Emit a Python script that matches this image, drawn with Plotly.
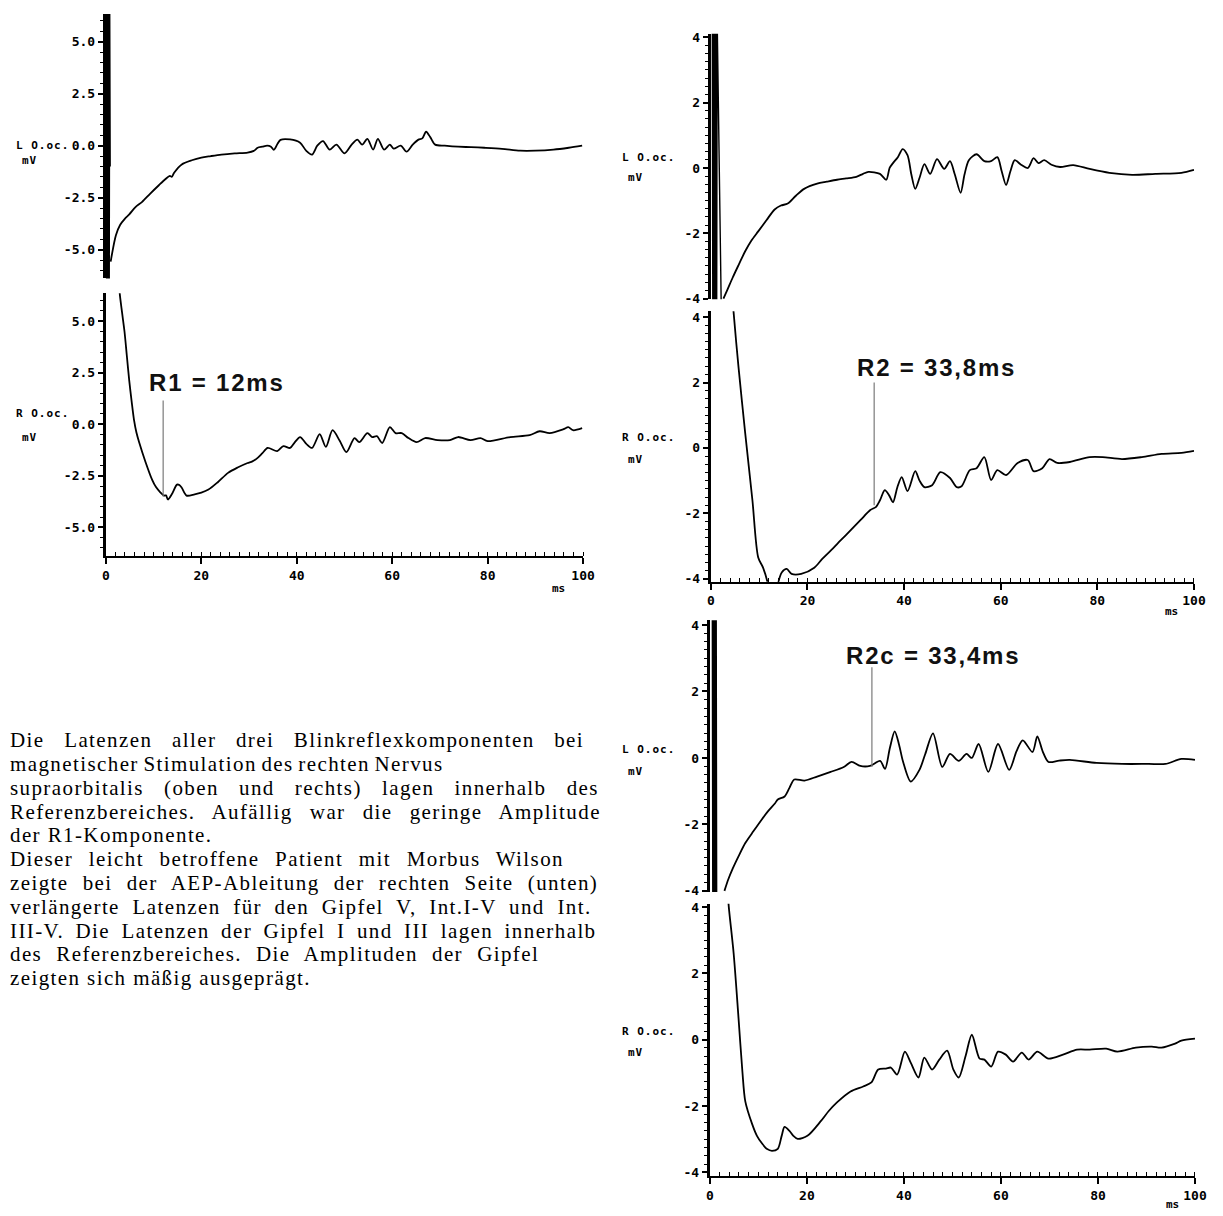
import plotly.graph_objects as go

# ---------------- data: blink reflex recordings (time in ms, amplitude in mV) ----------------
# Left panel, left orbicularis oculi (L O.oc.)
stim_a_t = [0.0, 0.1, 0.2, 0.3, 0.4, 0.5, 0.6, 0.7, 0.8, 0.9]
stim_a_v = [6.6, -6.6, 6.6, -6.6, 6.6, -6.6, 6.6, -6.6, 6.6, -1.0]
la_t = [1.0, 2.1, 3.0, 4.0, 4.9, 6.2, 7.6, 9.3, 11.1, 12.5, 13.4, 13.8, 14.3, 15.9, 18, 20, 22, 24.2,
        27, 29.7, 31.0, 31.8, 32.8, 33.8, 34.6, 35.2, 36.0, 36.6, 38.6, 40.7, 42, 43.2, 44.3, 45.5,
        46.9, 48.3, 50, 51.5, 52.7, 53.7, 54.8, 56, 57, 58.3, 59.5, 60.3, 61.8, 63, 64.3, 65.5, 66.3,
        67.1, 68, 69, 71, 73.8, 76.5, 79.3, 83, 86.8, 90, 93.8, 97, 99.8]
la_v = [-5.57, -4.3, -3.8, -3.5, -3.3, -2.95, -2.7, -2.3, -1.9, -1.6, -1.45, -1.5, -1.3, -0.9, -0.7,
        -0.57, -0.5, -0.43, -0.37, -0.33, -0.25, -0.1, -0.05, 0.0, -0.05, -0.2, 0.1, 0.28, 0.3, 0.14,
        -0.25, -0.43, 0.0, 0.22, -0.19, 0.05, -0.37, 0.05, 0.29, 0.05, 0.33, -0.19, 0.33, -0.19, 0.05,
        -0.14, 0.0, -0.29, 0.05, 0.29, 0.35, 0.67, 0.4, 0.05, 0.0, -0.05, -0.07, -0.1, -0.15, -0.24,
        -0.24, -0.19, -0.1, 0.0]

# Left panel, right orbicularis oculi (R O.oc.)
ra_t = [2.6, 2.9, 3.4, 3.9, 4.4, 4.9, 5.4, 5.9, 6.4, 7.0, 8.3, 9.7, 10.5, 11.4, 12.2, 12.6, 13.0, 13.8,
        14.9, 15.4, 15.9, 16.9, 18.6, 20, 21.5, 23.5, 25.6, 27.6, 29.7, 30.7, 31.8, 32.8, 33.9, 35.9,
        37.2, 38.6, 39.5, 40.7, 42, 43.2, 44.8, 46.1, 47.5, 49, 50.4, 52.1, 53.1, 54.8, 55.8, 56.8,
        57.9, 59.5, 60.7, 62, 63.4, 65.1, 66.9, 69.5, 72.1, 73.8, 76.4, 78.5, 80, 84.7, 88.8, 90.9,
        93, 95.9, 96.9, 97.9, 99.8]
ra_v = [7.5, 6.35, 5.4, 4.5, 3.3, 2.1, 1.1, 0.2, -0.4, -0.9, -1.83, -2.7, -3.05, -3.3, -3.46, -3.45,
        -3.65, -3.4, -2.93, -2.95, -3.08, -3.46, -3.4, -3.32, -3.17, -2.8, -2.36, -2.1, -1.88, -1.8,
        -1.63, -1.4, -1.15, -1.3, -1.06, -1.15, -0.9, -0.62, -0.95, -1.15, -0.48, -1.1, -0.29, -0.8,
        -1.35, -0.67, -0.87, -0.43, -0.62, -0.58, -0.91, -0.14, -0.43, -0.43, -0.67, -0.87, -0.67,
        -0.77, -0.77, -0.62, -0.77, -0.67, -0.82, -0.62, -0.53, -0.34, -0.43, -0.24, -0.14, -0.29,
        -0.19]

# Upper right panel, L O.oc.
stim_b_t = [0.3, 0.4, 0.5, 0.6, 0.7, 0.8, 0.9, 1.0, 1.1, 1.2, 1.3, 2.2]
stim_b_v = [4.6, -4.6, 4.6, -4.6, 4.6, -4.6, 4.6, -4.6, 4.6, -4.6, 4.6, -4.8]
lb_t = [2.6, 3.5, 4.5, 5.8, 7.1, 8.4, 9.8, 11.5, 13.2, 14.5, 15.9, 17.6, 19.3, 22, 24, 26.1, 28, 30.1,
        31.5, 32.6, 35, 36.3, 37.0, 37.7, 38.7, 39.7, 40.7, 41.5, 42.3, 43.2, 44.2, 45.4, 46.8, 48.3,
        49.5, 50.5, 51.7, 52.5, 53.4, 55, 56.6, 58, 59.3, 60.2, 61.1, 62.0, 62.9, 64.2, 65.6, 66.8,
        67.8, 69, 70.5, 72.3, 75, 78.4, 82.5, 87.2, 92, 97.4, 100]
lb_v = [-4.0, -3.7, -3.36, -2.95, -2.55, -2.22, -1.94, -1.6, -1.27, -1.15, -1.09, -0.85, -0.64, -0.48,
        -0.42, -0.36, -0.32, -0.27, -0.18, -0.12, -0.18, -0.36, 0.0, 0.15, 0.33, 0.58, 0.39, -0.2,
        -0.64, -0.3, 0.12, -0.18, 0.27, -0.03, 0.21, -0.2, -0.76, -0.2, 0.24, 0.42, 0.21, 0.21, 0.33,
        -0.1, -0.52, -0.1, 0.24, 0.1, 0.0, 0.30, 0.15, 0.24, 0.1, 0.03, 0.09, -0.03, -0.15, -0.21,
        -0.18, -0.15, -0.06]

# Upper right panel, R O.oc.
rb_t = [4.5, 4.7, 5.7, 7.1, 8.6, 9.8, 10.8, 11.8, 12.3, 13.5, 13.9, 14.7, 15.7, 16.7, 18.7, 21.4, 23,
        24.8, 26.9, 28.9, 31, 33, 34.2, 35, 36, 36.9, 37.7, 38.6, 39.5, 40.7, 42.3, 43.2, 44.2, 45.8,
        47.5, 49.5, 50.9, 51.9, 53.6, 55, 56.6, 58, 59.3, 61.1, 63.5, 65.6, 66.8, 68.6, 70.1, 71.7,
        74.3, 78.4, 81.1, 85.1, 89.2, 93.3, 97.4, 100]
rb_v = [4.6, 4.15, 2.5, 0.46, -1.6, -3.35, -3.66, -4.15, -4.6, -4.6, -4.15, -3.8, -3.7, -3.85, -3.85,
        -3.66, -3.4, -3.14, -2.82, -2.52, -2.2, -1.9, -1.8, -1.6, -1.29, -1.45, -1.66, -1.2, -0.89,
        -1.32, -0.71, -1.0, -1.2, -1.14, -0.74, -0.92, -1.2, -1.17, -0.68, -0.62, -0.28, -0.98, -0.68,
        -0.83, -0.46, -0.37, -0.71, -0.62, -0.34, -0.46, -0.43, -0.28, -0.28, -0.34, -0.28, -0.18,
        -0.15, -0.09]

# Lower right panel, L O.oc.
stim_c_t = [0.5, 0.6, 0.7, 0.8, 0.9, 1.0, 1.1, 1.2, 1.3, 1.4, 2.4]
stim_c_v = [4.6, -4.6, 4.6, -4.6, 4.6, -4.6, 4.6, -4.6, 4.6, -4.6, -4.8]
lc_t = [3.0, 3.8, 4.7, 6.0, 7.3, 9.0, 10.7, 12.0, 13.4, 14.0, 15.4, 16.4, 17.4, 19.5, 22.1, 24.9, 27.6,
        29.2, 31, 33, 35.1, 36.1, 37.1, 38.1, 39.0, 39.8, 41.4, 43.2, 44.4, 46, 47.9, 49.5, 51.3, 52.9,
        54, 55.4, 57.4, 59.4, 61.7, 63.2, 64.5, 66.5, 67.5, 68.6, 69.8, 72, 74.2, 79.7, 85, 90.5, 93.9,
        97.2, 100]
lc_v = [-4.0, -3.65, -3.33, -2.93, -2.56, -2.2, -1.85, -1.6, -1.37, -1.25, -1.16, -0.9, -0.65, -0.68,
        -0.56, -0.42, -0.27, -0.12, -0.24, -0.24, -0.09, -0.33, 0.3, 0.8, 0.4, -0.1, -0.71, -0.36,
        0.12, 0.74, -0.27, 0.12, -0.09, 0.12, 0.0, 0.42, -0.42, 0.42, -0.36, 0.2, 0.53, 0.18, 0.65,
        0.2, -0.12, -0.08, -0.06, -0.15, -0.18, -0.18, -0.18, -0.03, -0.06]

# Lower right panel, R O.oc.
rc_t = [3.6, 3.9, 4.9, 5.9, 6.7, 7.3, 8.7, 9.7, 10.8, 11.8, 12.8, 14, 14.8, 15.4, 16.4, 17.2, 18.1,
        20.1, 22.9, 24.5, 26.2, 29, 31.6, 33.3, 34.7, 36.3, 37.3, 38.6, 40.2, 41.4, 43, 44.2, 45.8,
        47.3, 48.9, 50.2, 51.3, 52.7, 54, 55.6, 56.6, 58, 59.4, 61, 62.5, 64.3, 65.7, 67.5, 69.8, 72.8,
        75.7, 78.3, 81.7, 84, 87.8, 91.1, 93.1, 95.9, 97.2, 100]
rc_v = [4.6, 4.0, 2.6, 0.66, -0.96, -1.86, -2.54, -2.9, -3.14, -3.3, -3.35, -3.29, -2.9, -2.63, -2.75,
        -2.9, -2.99, -2.9, -2.45, -2.15, -1.89, -1.56, -1.41, -1.29, -0.9, -0.87, -0.84, -1.05, -0.36,
        -0.69, -1.14, -0.54, -0.9, -0.6, -0.33, -0.9, -1.14, -0.5, 0.15, -0.57, -0.6, -0.81, -0.36,
        -0.45, -0.66, -0.39, -0.6, -0.36, -0.57, -0.45, -0.3, -0.3, -0.27, -0.36, -0.24, -0.21, -0.24,
        -0.12, -0.03, 0.03]

# Reflex component latencies
latency_labels = ["R1 = 12ms", "R2 = 33,8ms", "R2c = 33,4ms"]
latency_ms = [12.0, 33.8, 33.4]

# Axis tick labels
x_ticks = [0, 20, 40, 60, 80, 100]
y_ticks_wide = [-5.0, -2.5, 0.0, 2.5, 5.0]
y_ticktext_wide = ["-5.0", "-2.5", "0.0", "2.5", "5.0"]
y_ticks_narrow = [-4, -2, 0, 2, 4]
y_ticktext_narrow = ["-4", "-2", "0", "2", "4"]
channel_names = ["L O.oc.", "R O.oc."]
unit_label = "mV"
time_unit = "ms"

body_lines = [
    "Die Latenzen aller drei Blinkreflexkomponenten bei",
    "magnetischer Stimulation des rechten Nervus",
    "supraorbitalis (oben und rechts) lagen innerhalb des",
    "Referenzbereiches. Aufällig war die geringe Amplitude",
    "der R1-Komponente.",
    "Dieser leicht betroffene Patient mit Morbus Wilson",
    "zeigte bei der AEP-Ableitung der rechten Seite (unten)",
    "verlängerte Latenzen für den Gipfel V, Int.I-V und Int.",
    "III-V. Die Latenzen der Gipfel I und III lagen innerhalb",
    "des Referenzbereiches. Die Amplituden der Gipfel",
    "zeigten sich mäßig ausgeprägt.",
]
# extra space between words on each line of the paragraph (px)
body_word_gap = [13.0, -2.0, 13.5, 10.5, 0.0, 9.0, 7.5, 6.0, 4.8, 7.5, 0.0]

# ---------------- page geometry (pixels) ----------------
W, H = 1223, 1216


def px_x(p):
    return p / W


def px_y(p):
    return 1 - p / H


MONO = "DejaVu Sans Mono"
tickfont = dict(family=MONO, size=13, color="black", weight="bold")

# (x-left px, x-right px, top px, bottom px, y-range, ticks, ticktext, minor dtick, show x axis)
panels = [
    (103, 587, 10, 277, [-6.38, 6.33], y_ticks_wide, y_ticktext_wide, 0.5, False),
    (103, 587, 292, 557, [-6.39, 6.35], y_ticks_wide, y_ticktext_wide, 0.5, True),
    (716, 1206, 30, 298, [-4.02, 4.11], y_ticks_narrow, y_ticktext_narrow, 0.25, False),
    (716, 1206, 310, 583, [-4.09, 4.18], y_ticks_narrow, y_ticktext_narrow, 0.25, True),
    (715, 1207, 622, 896, [-4.03, 4.14], y_ticks_narrow, y_ticktext_narrow, 0.25, False),
    (715, 1207, 908, 1183, [-4.12, 4.1], y_ticks_narrow, y_ticktext_narrow, 0.25, True),
]

traces = [
    (la_t, la_v, stim_a_t, stim_a_v),
    (ra_t, ra_v, None, None),
    (lb_t, lb_v, stim_b_t, stim_b_v),
    (rb_t, rb_v, None, None),
    (lc_t, lc_v, stim_c_t, stim_c_v),
    (rc_t, rc_v, None, None),
]

fig = go.Figure()
layout = dict(
    width=W, height=H, margin=dict(l=0, r=0, t=0, b=0),
    paper_bgcolor="white", plot_bgcolor="white", showlegend=False,
)

for i, (p, tr) in enumerate(zip(panels, traces), start=1):
    xl, xr, yt, yb, yr, yt_vals, yt_text, ydt, show_x = p
    xa = "x" if i == 1 else f"x{i}"
    ya = "y" if i == 1 else f"y{i}"
    t, v, st, sv = tr
    if st is not None:
        # stimulus artifact: linear segments, no smoothing
        fig.add_trace(go.Scatter(x=st, y=sv, mode="lines", xaxis=xa, yaxis=ya,
                                 line=dict(color="black", width=1.4), hoverinfo="skip"))
    fig.add_trace(go.Scatter(x=t, y=v, mode="lines", xaxis=xa, yaxis=ya,
                             line=dict(color="black", width=1.8, shape="spline", smoothing=0.8)))

    xkey = "xaxis" if i == 1 else f"xaxis{i}"
    ykey = "yaxis" if i == 1 else f"yaxis{i}"
    layout[xkey] = dict(
        domain=[px_x(xl), px_x(xr)], range=[-0.05, 100.05], anchor=ya, visible=show_x,
        showgrid=False, zeroline=False, showline=True, linecolor="black", linewidth=2.2,
        ticks="outside", ticklen=6, tickwidth=1.6, tickcolor="black",
        tickvals=x_ticks, ticktext=[str(x) for x in x_ticks], tickfont=tickfont,
        minor=dict(ticks="inside", ticklen=4, tickwidth=1.3, tickcolor="black", dtick=2, tick0=0,
                   showgrid=False),
    )
    layout[ykey] = dict(
        domain=[px_y(yb), px_y(yt)], range=yr, anchor=xa,
        showgrid=False, zeroline=False, showline=True, linecolor="black", linewidth=2.8,
        ticks="outside", ticklen=5, tickwidth=1.6, tickcolor="black",
        tickvals=yt_vals, ticktext=yt_text, tickfont=tickfont,
        minor=dict(ticks="outside", ticklen=3, tickwidth=1.2, tickcolor="black", dtick=ydt, tick0=0,
                   showgrid=False),
    )

fig.update_layout(**layout)

annotations = []
shapes = []


def spaced(txt, letter, word=0.0):
    return f'<span style="letter-spacing:{letter}px;word-spacing:{word}px">{txt}</span>'


# channel / unit labels beside each y axis: (label x px, name y px, unit y px)
side_labels = [
    (10, 143, 158), (10, 413, 437),
    (624, 155, 175), (624, 437, 460),
    (624, 752, 775), (624, 1037, 1058),
]
for k, (lx, ny, uy) in enumerate(side_labels):
    annotations.append(dict(
        x=px_x(lx), y=px_y(ny), xref="paper", yref="paper", xanchor="left", yanchor="middle",
        text=spaced(channel_names[k % 2], 1.0), showarrow=False,
        font=dict(family=MONO, size=11, color="black", weight="bold")))
    annotations.append(dict(
        x=px_x(lx + 6), y=px_y(uy), xref="paper", yref="paper", xanchor="left", yanchor="middle",
        text=spaced(unit_label, 1.0), showarrow=False,
        font=dict(family=MONO, size=11, color="black", weight="bold")))

# time unit under each x axis
for ux, uy in [(562, 590), (1183, 613), (1184, 1211)]:
    annotations.append(dict(
        x=px_x(ux), y=px_y(uy), xref="paper", yref="paper", xanchor="center", yanchor="middle",
        text=time_unit, showarrow=False,
        font=dict(family=MONO, size=11, color="black", weight="bold")))

# latency markers: vertical line at the latency and the bold value label
marker_axes = [("x2", "y2"), ("x4", "y4"), ("x5", "y5")]
marker_spans = [(1.15, -3.5), (2.0, -1.75), (2.73, -0.27)]
label_pos = [(216, 382), (945, 367), (941, 657)]
for (xa, ya), (y0, y1), (lx, ly), lab, ms in zip(marker_axes, marker_spans, label_pos,
                                                  latency_labels, latency_ms):
    shapes.append(dict(type="line", xref=xa, yref=ya, x0=ms, x1=ms, y0=y0, y1=y1,
                       line=dict(color="#7a7a7a", width=1.2)))
    annotations.append(dict(
        x=px_x(lx), y=px_y(ly), xref="paper", yref="paper", xanchor="center", yanchor="middle",
        text=spaced(lab, 1.8), showarrow=False,
        font=dict(family="Liberation Sans", size=24, color="#111111", weight="bold")))

# descriptive paragraph
for n, (line, gap) in enumerate(zip(body_lines, body_word_gap)):
    annotations.append(dict(
        x=px_x(4), y=px_y(743 + 24 * n), xref="paper", yref="paper", xanchor="left",
        yanchor="middle", align="left",
        text=spaced(line, 1.4, gap), showarrow=False,
        font=dict(family="Liberation Serif", size=21, color="black")))

fig.update_layout(annotations=annotations, shapes=shapes)
fig.write_html("out.html")
